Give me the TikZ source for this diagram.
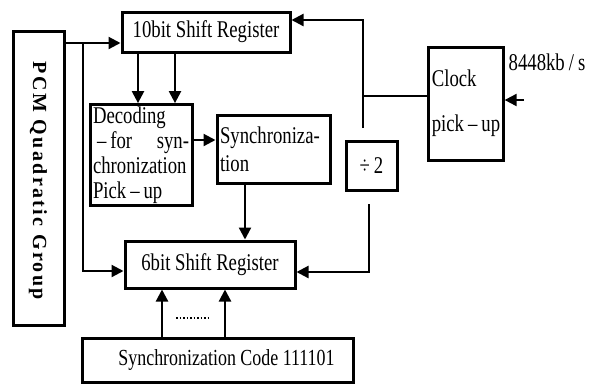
\documentclass[tikz,border=0pt]{standalone}
\usepackage{fontspec}
\setmainfont{Liberation Serif}
\newfontfamily\narrowfont[FakeStretch=0.78]{Liberation Serif}
\newfontfamily\pcmfont[LetterSpace=12]{Liberation Serif}
\usetikzlibrary{arrows.meta}

\begin{document}
\begin{tikzpicture}[x=1pt,y=-1pt,>={Triangle[length=12pt,width=12pt]}]
  \tikzstyle{blk}=[draw,line width=3pt,inner sep=3pt,
    font=\narrowfont\fontsize{24}{25}\selectfont]
  \tikzstyle{wire}=[line width=2.2pt]
  \useasboundingbox (0,0) rectangle (600,384);
  % blocks
  \node[blk,minimum width=51,minimum height=294] (pcm) at (38.5,178) {};
  \node[rotate=-90,font=\pcmfont\bfseries\fontsize{20}{20}\selectfont] (pcmtext) at (38,181) {PCM\ Quadratic\ Group};
  \node[blk,minimum width=168,minimum height=40] (reg10) at (206,32) {10bit Shift Register};
  \node[blk,minimum width=102,minimum height=100,text width=96,align=left,inner sep=2pt] (dec) at (141,155)
    {Decoding\\\makebox[\linewidth][l]{\hspace{4pt}–\,for\hfill syn-}\\chronization\\Pick\,–\,up};
  \node[blk,minimum width=113,minimum height=68,text width=107,align=left] (sync) at (273.5,149)
    {Synchroniza-\\[3pt]tion};
  \node[blk,minimum width=170,minimum height=47] (reg6) at (210,264.5) {6bit Shift Register};
  \node[blk,minimum width=271,minimum height=44,font=\narrowfont\fontsize{23}{25}\selectfont] (code) at (217.5,360)
    {\hspace{18pt}Synchronization Code 111101};
  \node[blk,minimum width=51,minimum height=49] (div) at (371.5,165.5) {÷\,2};
  \node[blk,minimum width=68,minimum height=113,align=left] (clock) at (466,103.5)
    {Clock\\[20pt]pick\,–\,up};
  \node[font=\narrowfont\fontsize{24}{25}\selectfont] (rate) at (547,62) {8448kb\,/\,s};
  % junctions
  \coordinate (split) at (83,43);
  \coordinate (t1) at (138,0);
  \coordinate (t2) at (175,0);
  \coordinate (t3) at (245,0);
  \coordinate (t4) at (162,0);
  \coordinate (t5) at (225,0);
  \coordinate (dl) at (0,140);
  \coordinate (low) at (0,271);
  \coordinate (up) at (363,20);
  \coordinate (jn) at (363,96);
  \coordinate (dtop) at (363,128);
  \coordinate (dbot) at (369,204);
  \coordinate (fb) at (369,272);
  \coordinate (in) at (524,100);
  \coordinate (d1) at (176,318);
  \coordinate (d2) at (211,318);
  % connectors
  \draw[wire,->] (pcm.east |- split) -- (reg10.west |- split);
  \draw[wire,->] (split) |- (reg6.west |- low);
  \draw[wire,->] (reg10.south -| t1) -- (dec.north -| t1);
  \draw[wire,->] (reg10.south -| t2) -- (dec.north -| t2);
  \draw[wire,->] (dec.east |- dl) -- (sync.west |- dl);
  \draw[wire,->] (sync.south -| t3) -- (reg6.north -| t3);
  \draw[wire,->] (code.north -| t4) -- (reg6.south -| t4);
  \draw[wire,->] (code.north -| t5) -- (reg6.south -| t5);
  \draw[line width=1.5pt,dotted] (d1) -- (d2);
  \draw[wire] (clock.west |- jn) -- (jn);
  \draw[wire,->] (dtop) -- (up) -- (reg10.east |- up);
  \draw[wire,->] (dbot) -- (fb) -- (reg6.east |- fb);
  \draw[wire,->] (in) -- (clock.east |- in);
\end{tikzpicture}
\end{document}
